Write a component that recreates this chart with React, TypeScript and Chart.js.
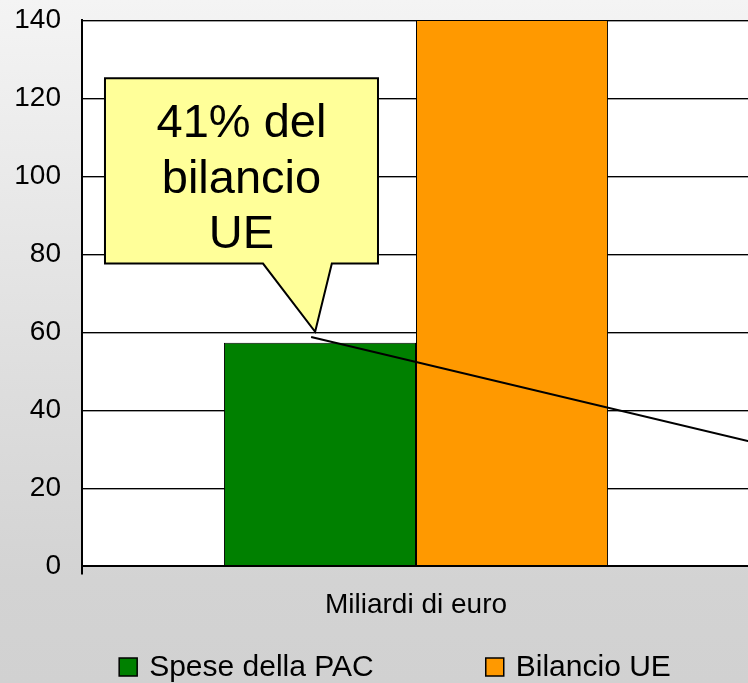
import React, { useEffect, useRef } from "react";
import { Chart, registerables } from "chart.js";

Chart.register(...registerables);

// ---- data ----
const categories = ["Miliardi di euro"];
const seriesNames = ["Spese della PAC", "Bilancio UE"];
const spesePAC = [57.3];
const bilancioUE = [140];
const seriesColors = ["#008000", "#FF9900"];
const yTicks = [0, 20, 40, 60, 80, 100, 120, 140];
const calloutLines = ["41% del", "bilancio", "UE"];

const FONT = "'Liberation Sans', Arial, Helvetica, sans-serif";

// callout geometry: x as fraction of plot width, y in data units
const CALLOUT = {
  box: { x0: 0.0344, x1: 0.4431, yTop: 125.1, yBottom: 77.6 },
  pointer: { baseX0: 0.271, baseX1: 0.374, tipX: 0.349, tipY: 60.1 },
  leader: { x0: 0.343, y0: 58.8, x1: 1.0, y1: 32.0 },
  fontSize: 47,
};

const plotBgPlugin = {
  id: "plotBg",
  beforeDraw(chart: any) {
    const { ctx, chartArea: a, scales } = chart;
    ctx.save();
    ctx.fillStyle = "#ffffff";
    ctx.fillRect(a.left, a.top, a.right - a.left, a.bottom - a.top);
    // soft shadow under grid lines
    ctx.strokeStyle = "#a0a0a0";
    ctx.lineWidth = 1;
    for (const t of scales.y.ticks) {
      const p = Math.round(scales.y.getPixelForValue(t.value) - 0.5) + 1.5;
      if (p > a.bottom) continue;
      ctx.beginPath();
      ctx.moveTo(a.left, p);
      ctx.lineTo(a.right, p);
      ctx.stroke();
    }
    ctx.restore();
  },
};

const calloutPlugin = {
  id: "callout",
  afterDatasetsDraw(chart: any) {
    const { ctx, chartArea: a, scales } = chart;
    const y = scales.y;
    const xf = (f: number) => a.left + f * (a.right - a.left);
    const yv = (v: number) => y.getPixelForValue(v);
    const { box, pointer, leader, fontSize } = CALLOUT;
    ctx.save();
    // leader line
    ctx.strokeStyle = "#000";
    ctx.lineWidth = 2;
    ctx.beginPath();
    ctx.moveTo(xf(leader.x0), yv(leader.y0));
    ctx.lineTo(xf(leader.x1), yv(leader.y1));
    ctx.stroke();
    // callout shape
    ctx.beginPath();
    ctx.moveTo(xf(box.x0), yv(box.yTop));
    ctx.lineTo(xf(box.x1), yv(box.yTop));
    ctx.lineTo(xf(box.x1), yv(box.yBottom));
    ctx.lineTo(xf(pointer.baseX1), yv(box.yBottom));
    ctx.lineTo(xf(pointer.tipX), yv(pointer.tipY));
    ctx.lineTo(xf(pointer.baseX0), yv(box.yBottom));
    ctx.lineTo(xf(box.x0), yv(box.yBottom));
    ctx.closePath();
    ctx.fillStyle = "#FFFF99";
    ctx.fill();
    ctx.lineJoin = "miter";
    ctx.strokeStyle = "#000";
    ctx.lineWidth = 2;
    ctx.stroke();
    // text
    ctx.fillStyle = "#000";
    ctx.font = `${fontSize}px ${FONT}`;
    ctx.textAlign = "center";
    ctx.textBaseline = "alphabetic";
    const cx = (xf(box.x0) + xf(box.x1)) / 2;
    const top = yv(box.yTop);
    calloutLines.forEach((line, i) => {
      ctx.fillText(line, cx, top + fontSize * 1.255 + i * fontSize * 1.18);
    });
    ctx.restore();
  },
};

const legendPlugin = {
  id: "customLegend",
  afterDraw(chart: any) {
    const { ctx } = chart;
    const fontSize = 30;
    const boxSize = 18;
    const gapText = 12;
    const gapItem = 112;
    ctx.save();
    ctx.font = `${fontSize}px ${FONT}`;
    const items = chart.data.datasets.map((d: any) => ({
      text: d.label as string,
      color: d.backgroundColor as string,
    }));
    const widths = items.map(
      (it: any) => boxSize + gapText + ctx.measureText(it.text).width
    );
    const total =
      widths.reduce((s: number, w: number) => s + w, 0) +
      gapItem * (items.length - 1);
    let x = chart.width / 2 + 20 - total / 2;
    const cy = chart.height - 16;
    items.forEach((it: any, i: number) => {
      ctx.fillStyle = it.color;
      ctx.fillRect(x, cy - boxSize / 2, boxSize, boxSize);
      ctx.strokeStyle = "#000";
      ctx.lineWidth = 1.5;
      ctx.strokeRect(x, cy - boxSize / 2, boxSize, boxSize);
      ctx.fillStyle = "#000";
      ctx.textAlign = "left";
      ctx.textBaseline = "middle";
      ctx.fillText(it.text, x + boxSize + gapText, cy + 1);
      x += widths[i] + gapItem;
    });
    ctx.restore();
  },
};

export default function App() {
  const ref = useRef<HTMLCanvasElement | null>(null);

  useEffect(() => {
    if (!ref.current) return;
    const chart = new Chart(ref.current, {
      type: "bar",
      data: {
        labels: categories,
        datasets: [
          {
            label: seriesNames[0],
            data: spesePAC,
            backgroundColor: seriesColors[0],
            borderColor: "#000",
            borderWidth: 1,
            borderSkipped: false,
            barPercentage: 1,
            categoryPercentage: 0.575,
          },
          {
            label: seriesNames[1],
            data: bilancioUE,
            backgroundColor: seriesColors[1],
            borderColor: "#000",
            borderWidth: 1,
            borderSkipped: false,
            barPercentage: 1,
            categoryPercentage: 0.575,
          },
        ],
      },
      options: {
        responsive: false,
        animation: false,
        devicePixelRatio: 1,
        layout: { padding: { top: 20, left: 0, right: 0, bottom: 47 } },
        plugins: {
          legend: { display: false },
          tooltip: { enabled: false },
          title: { display: false },
        },
        scales: {
          x: {
            z: 1,
            offset: true,
            grid: {
              display: true,
              drawOnChartArea: false,
              color: "#000",
              lineWidth: 2,
              tickLength: 8,
              offset: true,
            },
            border: { display: true, color: "#000", width: 2 },
            ticks: {
              color: "#000",
              font: { size: 28, family: FONT },
              padding: 14,
            },
          },
          y: {
            min: 0,
            max: 140,
            afterBuildTicks: (s: any) => {
              s.ticks = yTicks.map((v) => ({ value: v }));
            },
            afterFit: (s: any) => {
              s.width = 82;
              s.paddingTop = 0;
              s.paddingBottom = 0;
            },
            grid: { color: "#000", lineWidth: 1, drawTicks: false },
            border: { display: true, color: "#000", width: 2 },
            ticks: {
              color: "#000",
              font: { size: 28, family: FONT },
              padding: 21,
            },
          },
        },
      },
      plugins: [plotBgPlugin, calloutPlugin, legendPlugin],
    });
    return () => chart.destroy();
  }, []);

  return (
    <div
      style={{
        position: "fixed",
        left: 0,
        top: 0,
        width: 748,
        height: 683,
        overflow: "hidden",
        background:
          "linear-gradient(to bottom, #f4f4f4 0%, #dedede 55%, #d3d3d3 85%, #d1d1d1 100%)",
      }}
    >
      <canvas ref={ref} width={750} height={683} style={{ display: "block" }} />
    </div>
  );
}
